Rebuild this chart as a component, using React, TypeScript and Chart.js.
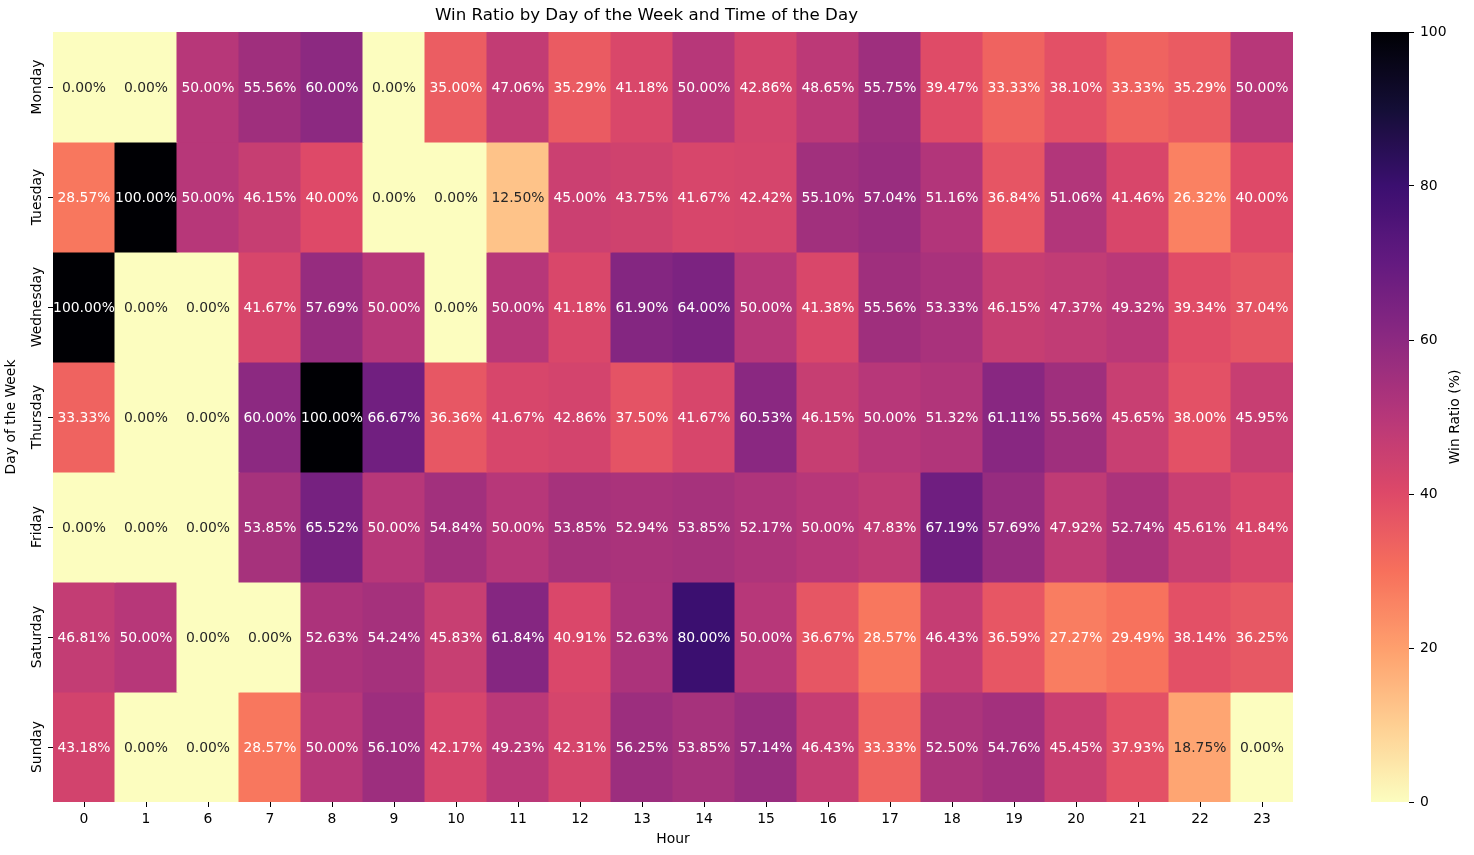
import React, { useEffect, useRef } from "react";
import { Chart, registerables } from "chart.js";

Chart.register(...registerables);

const days = ["Monday", "Tuesday", "Wednesday", "Thursday", "Friday", "Saturday", "Sunday"];
const hours = ["0", "1", "6", "7", "8", "9", "10", "11", "12", "13", "14", "15", "16", "17", "18", "19", "20", "21", "22", "23"];

const monday = [0.0, 0.0, 50.0, 55.56, 60.0, 0.0, 35.0, 47.06, 35.29, 41.18, 50.0, 42.86, 48.65, 55.75, 39.47, 33.33, 38.1, 33.33, 35.29, 50.0];
const tuesday = [28.57, 100.0, 50.0, 46.15, 40.0, 0.0, 0.0, 12.5, 45.0, 43.75, 41.67, 42.42, 55.1, 57.04, 51.16, 36.84, 51.06, 41.46, 26.32, 40.0];
const wednesday = [100.0, 0.0, 0.0, 41.67, 57.69, 50.0, 0.0, 50.0, 41.18, 61.9, 64.0, 50.0, 41.38, 55.56, 53.33, 46.15, 47.37, 49.32, 39.34, 37.04];
const thursday = [33.33, 0.0, 0.0, 60.0, 100.0, 66.67, 36.36, 41.67, 42.86, 37.5, 41.67, 60.53, 46.15, 50.0, 51.32, 61.11, 55.56, 45.65, 38.0, 45.95];
const friday = [0.0, 0.0, 0.0, 53.85, 65.52, 50.0, 54.84, 50.0, 53.85, 52.94, 53.85, 52.17, 50.0, 47.83, 67.19, 57.69, 47.92, 52.74, 45.61, 41.84];
const saturday = [46.81, 50.0, 0.0, 0.0, 52.63, 54.24, 45.83, 61.84, 40.91, 52.63, 80.0, 50.0, 36.67, 28.57, 46.43, 36.59, 27.27, 29.49, 38.14, 36.25];
const sunday = [43.18, 0.0, 0.0, 28.57, 50.0, 56.1, 42.17, 49.23, 42.31, 56.25, 53.85, 57.14, 46.43, 33.33, 52.5, 54.76, 45.45, 37.93, 18.75, 0.0];

const winRatios = [monday, tuesday, wednesday, thursday, friday, saturday, sunday];
const colorbarTicks = [0, 20, 40, 60, 80, 100];

const MAGMA = ["#000004", "#140e36", "#3b0f70", "#641a80", "#8c2981", "#b73779", "#de4968", "#f7705c", "#fe9f6d", "#fecf92", "#fcfdbf"];

function hexToRgb(h: string): number[] {
  return [parseInt(h.slice(1, 3), 16), parseInt(h.slice(3, 5), 16), parseInt(h.slice(5, 7), 16)];
}
const MAGMA_RGB = MAGMA.map(hexToRgb);

function magma(t: number): number[] {
  const tt = Math.max(0, Math.min(1, t)) * (MAGMA_RGB.length - 1);
  const i = Math.min(Math.floor(tt), MAGMA_RGB.length - 2);
  const f = tt - i;
  const a = MAGMA_RGB[i];
  const b = MAGMA_RGB[i + 1];
  return [0, 1, 2].map((k) => a[k] + (b[k] - a[k]) * f);
}

function valueColor(v: number): number[] {
  return magma(1 - v / 100);
}

function rgbStr(c: number[]): string {
  return `rgb(${Math.round(c[0])},${Math.round(c[1])},${Math.round(c[2])})`;
}

function textColor(v: number): string {
  const c = valueColor(v).map((x) => {
    const s = x / 255;
    return s <= 0.03928 ? s / 12.92 : Math.pow((s + 0.055) / 1.055, 2.4);
  });
  const lum = 0.2126 * c[0] + 0.7152 * c[1] + 0.0722 * c[2];
  return lum > 0.408 ? "#262626" : "#ffffff";
}

const FONT = "DejaVu Sans";
const tickFont = { family: FONT, size: 13.9 };

const annotatePlugin = {
  id: "annotate",
  afterDatasetsDraw(chart: any) {
    const ctx = chart.ctx;
    ctx.save();
    ctx.font = `13.9px "${FONT}"`;
    ctx.textAlign = "center";
    ctx.textBaseline = "middle";
    chart.data.datasets.forEach((_ds: any, r: number) => {
      const meta = chart.getDatasetMeta(r);
      meta.data.forEach((el: any, c: number) => {
        const v = winRatios[r][c];
        ctx.fillStyle = textColor(v);
        ctx.fillText(v.toFixed(2) + "%", el.x, (el.y + el.base) / 2 + 1);
      });
    });
    ctx.restore();
  },
};

// y tick labels, rotated and centred on each tick
const yLabelPlugin = {
  id: "yLabels",
  afterDraw(chart: any) {
    const ctx = chart.ctx;
    const ys = chart.scales.y;
    ctx.save();
    ctx.font = `13.9px "${FONT}"`;
    ctx.fillStyle = "#000";
    ctx.textAlign = "center";
    ctx.textBaseline = "middle";
    days.forEach((d, i) => {
      const y = ys.getPixelForValue(i + 0.5);
      ctx.save();
      ctx.translate(ys.right - 16, y);
      ctx.rotate(-Math.PI / 2);
      ctx.fillText(d, 0, 0);
      ctx.restore();
    });
    ctx.restore();
  },
};

const gradientPlugin = {
  id: "cbGradient",
  beforeDatasetsDraw(chart: any) {
    const ctx = chart.ctx;
    const { left, right, top, bottom } = chart.chartArea;
    const ys = chart.scales.y;
    const y0 = ys.getPixelForValue(0);
    const y1 = ys.getPixelForValue(100);
    const g = ctx.createLinearGradient(0, y0, 0, y1);
    for (let i = 0; i <= 100; i += 2) g.addColorStop(i / 100, rgbStr(valueColor(i)));
    ctx.save();
    ctx.fillStyle = g;
    ctx.fillRect(left, top, right - left, bottom - top);
    ctx.restore();
  },
  afterDraw(chart: any) {
    const ctx = chart.ctx;
    const ys = chart.scales.y;
    const { top, bottom } = chart.chartArea;
    ctx.save();
    ctx.translate(ys.left + 46, (top + bottom) / 2);
    ctx.rotate(-Math.PI / 2);
    ctx.font = `13.9px "${FONT}"`;
    ctx.fillStyle = "#000";
    ctx.textAlign = "center";
    ctx.textBaseline = "middle";
    ctx.fillText("Win Ratio (%)", 0, 0);
    ctx.restore();
  },
};

export default function App() {
  const mainRef = useRef<HTMLCanvasElement>(null);
  const cbRef = useRef<HTMLCanvasElement>(null);

  useEffect(() => {
    const datasets = days.map((d, r) => ({
      label: d,
      data: hours.map(() => [r, r + 1]),
      backgroundColor: winRatios[r].map((v) => rgbStr(valueColor(v))),
      borderWidth: 0,
      barPercentage: 1,
      categoryPercentage: 1,
      grouped: false,
      inflateAmount: 0.5,
    }));

    const main = new Chart(mainRef.current as HTMLCanvasElement, {
      type: "bar",
      data: { labels: hours, datasets: datasets as any },
      options: {
        animation: false,
        responsive: false,
        events: [],
        layout: { padding: { left: 0, right: 37, top: 0, bottom: 0 } },
        scales: {
          x: {
            type: "category",
            offset: true,
            grid: { offset: false, drawOnChartArea: false, drawTicks: true, tickLength: 5, color: "#000" },
            border: { display: false },
            ticks: { color: "#000", font: tickFont, padding: 4, maxRotation: 0, autoSkip: false },
            title: { display: true, text: "Hour", color: "#000", font: tickFont, padding: { top: 4, bottom: 7 } },
            afterFit: (s: any) => {
              s.height = 53;
            },
          },
          y: {
            type: "linear",
            min: 0,
            max: 7,
            reverse: true,
            afterBuildTicks: (s: any) => {
              s.ticks = days.map((_d, i) => ({ value: i + 0.5 }));
            },
            ticks: {
              color: "rgba(0,0,0,0)",
              font: tickFont,
              padding: 3,
              autoSkip: false,
              callback: (_v: any, i: number) => days[i],
            },
            grid: { drawOnChartArea: false, drawTicks: true, tickLength: 5, color: "#000" },
            border: { display: false },
            title: { display: true, text: "Day of the Week", color: "#000", font: tickFont, padding: { top: 3, bottom: 3 } },
            afterFit: (s: any) => {
              s.width = 53;
            },
          },
        },
        plugins: {
          legend: { display: false },
          tooltip: { enabled: false },
          title: {
            display: true,
            text: "Win Ratio by Day of the Week and Time of the Day",
            color: "#000",
            font: { family: FONT, size: 16.67, weight: "normal" },
            padding: { top: 6, bottom: 6 },
          },
        },
      },
      plugins: [annotatePlugin, yLabelPlugin],
    });

    const cb = new Chart(cbRef.current as HTMLCanvasElement, {
      type: "scatter",
      data: { datasets: [{ data: [] }] },
      options: {
        animation: false,
        responsive: false,
        events: [],
        layout: { padding: { left: 41, right: 0, top: 32, bottom: 53 } },
        scales: {
          x: { type: "linear", display: false },
          y: {
            type: "linear",
            position: "right",
            min: 0,
            max: 100,
            afterBuildTicks: (s: any) => {
              s.ticks = colorbarTicks.map((v) => ({ value: v }));
            },
            ticks: { color: "#000", font: tickFont, padding: 6 },
            grid: { drawOnChartArea: false, drawTicks: true, tickLength: 5, color: "#000" },
            border: { display: false },
            afterFit: (s: any) => {
              s.width = 65;
            },
          },
        },
        plugins: { legend: { display: false }, tooltip: { enabled: false } },
      },
      plugins: [gradientPlugin],
    });

    return () => {
      main.destroy();
      cb.destroy();
    };
  }, []);

  return (
    <div style={{ position: "fixed", left: 0, top: 0, width: 1474, height: 855, background: "#fff" }}>
      <canvas ref={mainRef} width={1330} height={855} style={{ position: "absolute", left: 0, top: 0, width: 1330, height: 855 }} />
      <canvas ref={cbRef} width={144} height={855} style={{ position: "absolute", left: 1330, top: 0, width: 144, height: 855 }} />
    </div>
  );
}
